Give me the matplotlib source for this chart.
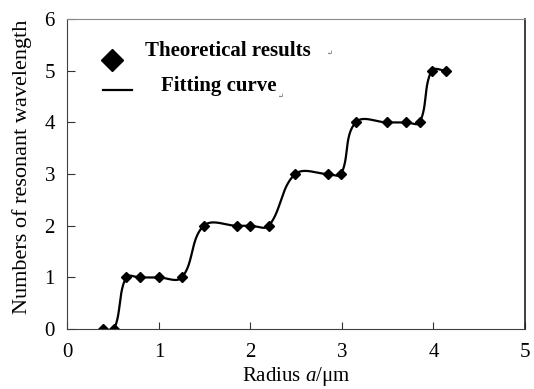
import numpy as np
import matplotlib
matplotlib.use("Agg")
import matplotlib.pyplot as plt
from matplotlib.lines import Line2D

radius = [0.39, 0.51, 0.64, 0.79, 1.00, 1.25, 1.49, 1.85, 2.00, 2.20,
          2.49, 2.85, 2.99, 3.15, 3.49, 3.70, 3.85, 3.98, 4.14]
counts = [0, 0, 1, 1, 1, 1, 2, 2, 2, 2,
          3, 3, 3, 4, 4, 4, 4, 5, 5]
x_ticks = [0, 1, 2, 3, 4, 5]
y_ticks = [0, 1, 2, 3, 4, 5, 6]


def smooth_display(P, n=40):
    # spreadsheet-style smoothed line: tangent along neighbours, length ~ 1/3 segment
    P = np.asarray(P, float)
    m = len(P)
    T = np.zeros_like(P)
    for i in range(m):
        a = P[max(i - 1, 0)]
        b = P[min(i + 1, m - 1)]
        d = b - a
        nrm = np.hypot(*d)
        T[i] = d / nrm if nrm > 0 else 0
    t = np.linspace(0, 1, n)[:, None]
    out = []
    for i in range(m - 1):
        p1, p2 = P[i], P[i + 1]
        L = np.hypot(*(p2 - p1))
        c1 = p1 + T[i] * L / 3.0
        c2 = p2 - T[i + 1] * L / 3.0
        seg = (1 - t) ** 3 * p1 + 3 * (1 - t) ** 2 * t * c1 + 3 * (1 - t) * t ** 2 * c2 + t ** 3 * p2
        out.append(seg)
    return np.vstack(out)


plt.rcParams['font.family'] = ['Liberation Serif', 'DejaVu Serif']
plt.rcParams['mathtext.fontset'] = 'custom'
plt.rcParams['mathtext.it'] = 'Liberation Serif:italic'
plt.rcParams['mathtext.rm'] = 'Liberation Serif'

fig = plt.figure(figsize=(5.34, 3.89), dpi=100)
ax = fig.add_axes([0.1264, 0.154, 0.983 - 0.1264, 0.951 - 0.154])
ax.set_xlim(0, 5)
ax.set_ylim(0, 6)

disp = ax.transData.transform(np.column_stack([radius, counts]))
curve = ax.transData.inverted().transform(smooth_display(disp))
ax.plot(curve[:, 0], curve[:, 1], color='black', lw=1.6, solid_capstyle='round')
ax.plot(radius, counts, linestyle='none', marker='D', color='black', markersize=5.5)

ax.set_xticks(x_ticks)
ax.set_yticks(y_ticks)
ax.tick_params(axis='x', direction='in', length=5, width=0.8, pad=10, labelsize=15,
               colors='#333333', labelcolor='black')
ax.tick_params(axis='y', direction='in', length=6, width=0.8, pad=9, labelsize=15,
               colors='#333333', labelcolor='black')

ax.spines['left'].set_color('#404040')
ax.spines['bottom'].set_color('#404040')
ax.spines['top'].set_color('#8a8a8a')
ax.spines['right'].set_color('#202020')
ax.spines['right'].set_linewidth(1.2)

ax.set_xlabel('Radius $a$/\u03bcm', fontsize=15, labelpad=2)
ax.set_ylabel('Numbers of resonant wavelength', fontsize=16)
ax.yaxis.set_label_coords(-0.077, 0.523)

# legend drawn manually
ax.plot([0.0979], [0.868], transform=ax.transAxes, marker='D', color='black',
        markersize=11, linestyle='none')
ax.add_line(Line2D([0.077, 0.142], [0.772, 0.772], transform=ax.transAxes, color='black', lw=1.6))
ax.text(0.169, 0.897, 'Theoretical results', transform=ax.transAxes, fontsize=15,
        fontweight='bold', va='center', ha='left')
ax.text(0.566, 0.89, '\u21b5', transform=ax.transAxes, fontsize=5, va='center', ha='left', color='#555555')
ax.text(0.204, 0.783, 'Fitting curve', transform=ax.transAxes, fontsize=15,
        fontweight='bold', va='center', ha='left')
ax.text(0.46, 0.75, '\u21b5', transform=ax.transAxes, fontsize=5, va='center', ha='left', color='#555555')

fig.savefig('out.png', dpi=100)
